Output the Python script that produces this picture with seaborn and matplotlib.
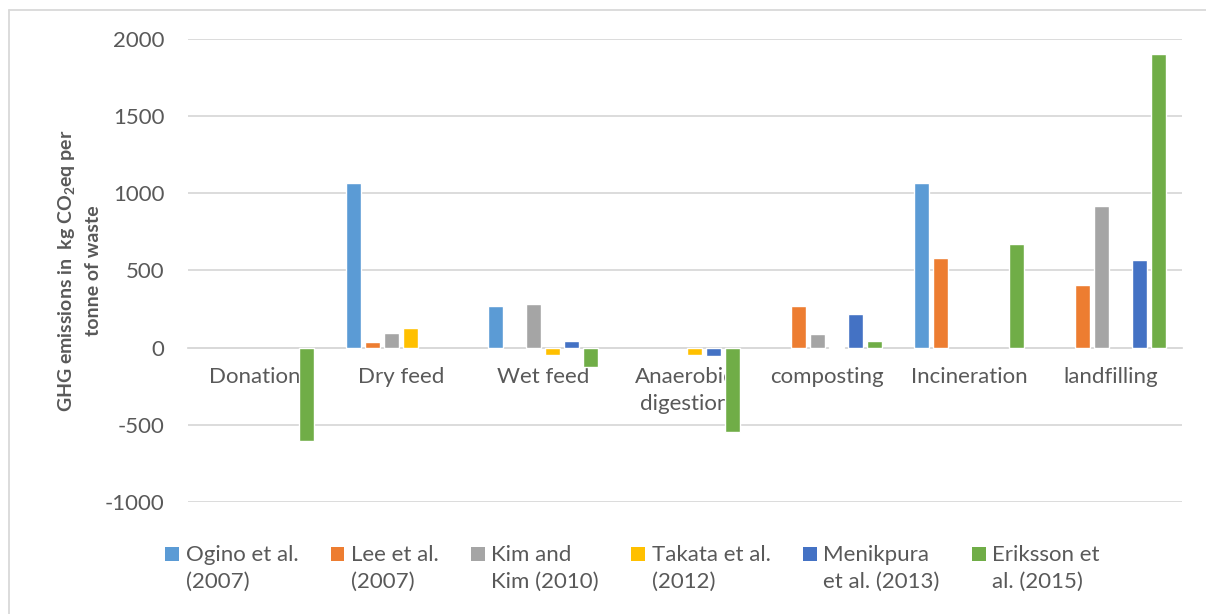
import numpy as np
import pandas as pd
import matplotlib
matplotlib.use("Agg")
import matplotlib.pyplot as plt
from matplotlib.patches import Rectangle
from matplotlib.lines import Line2D
import seaborn as sns

# Treatment routes and the studies compared (kg CO2eq per tonne of waste)
methods = ["Donations", "Dry feed", "Wet feed", "Anaerobic\ndigestion",
           "composting", "Incineration", "landfilling"]
studies = ["Ogino et al.\n(2007)", "Lee et al.\n(2007)", "Kim and\nKim (2010)",
           "Takata et al.\n(2012)", "Menikpura\net al. (2013)", "Eriksson et\nal. (2015)"]

ogino = [np.nan, 1070, 270, np.nan, np.nan, 1065, np.nan]
lee = [np.nan, 35, np.nan, np.nan, 270, 580, 405]
kim = [np.nan, 95, 285, np.nan, 90, np.nan, 915]
takata = [np.nan, 125, -45, -45, 5, np.nan, np.nan]
menikpura = [np.nan, np.nan, 45, -55, 220, np.nan, 570]
eriksson = [-605, np.nan, -127, -545, 40, 670, 1900]

colors = ["#5B9BD5", "#ED7D31", "#A5A5A5", "#FFC000", "#4472C4", "#70AD47"]

series = [ogino, lee, kim, takata, menikpura, eriksson]
df = pd.DataFrame({s: v for s, v in zip(studies, series)}, index=methods)
df.index.name = "method"
long = df.reset_index().melt(id_vars="method", var_name="study", value_name="value")

sns.set_theme(style="white")
plt.rcParams["font.family"] = ["Lato", "DejaVu Sans"]
plt.rcParams["mathtext.fontset"] = "custom"
plt.rcParams["mathtext.rm"] = "Lato"
plt.rcParams["mathtext.bf"] = "Lato:bold"
plt.rcParams["axes.unicode_minus"] = False

text_color = "#595959"
grid_color = "#D9D9D9"

fig = plt.figure(figsize=(12.06, 6.14), dpi=100)
ax = fig.add_axes([0.156, 0.1824, 0.824, 0.7541])

sns.barplot(data=long, x="method", y="value", hue="study",
            order=methods, hue_order=studies, palette=colors,
            saturation=1, width=0.8, errorbar=None, legend=False, ax=ax)

# Narrow each bar inside its slot, keeping the slot centre
for cont in ax.containers:
    for bar in cont:
        w = bar.get_width()
        bar.set_x(bar.get_x() + w * 0.1)
        bar.set_width(w * 0.8)

ax.set_ylim(-1000, 2000)
ax.set_xlim(-0.5, len(methods) - 0.5)
ax.set_yticks(np.arange(-1000, 2001, 500))
ax.yaxis.grid(True, color=grid_color, linewidth=1.3)
ax.set_axisbelow(True)

for side in ["top", "right", "left"]:
    ax.spines[side].set_visible(False)
ax.spines["bottom"].set_position(("data", 0))
ax.spines["bottom"].set_color(grid_color)
ax.spines["bottom"].set_linewidth(1.3)
ax.spines["bottom"].set_zorder(0.6)

ax.tick_params(axis="x", length=0, pad=14, labelsize=16, labelcolor=text_color)
ax.tick_params(axis="y", length=0, pad=17, labelsize=16, labelcolor=text_color)
for lbl in ax.get_xticklabels():
    lbl.set_linespacing(1.4)
ax.set_xlabel("")
ax.set_ylabel("GHG emissions in  kg CO$_\\mathbf{2}$eq per\ntonne of waste",
              fontsize=14, fontweight="bold", color=text_color, linespacing=1.5)
ax.yaxis.set_label_coords(-0.087, 0.5)

handles = [Rectangle((0, 0), 1, 1, facecolor=c, edgecolor="none") for c in colors]
leg = fig.legend(handles, studies, loc="upper left", bbox_to_anchor=(0.137, 0.112),
                 ncol=6, frameon=False, fontsize=16, labelcolor=text_color,
                 handlelength=0.62, handleheight=0.62, handletextpad=0.3,
                 columnspacing=1.45, borderaxespad=0, borderpad=0)
for t in leg.get_texts():
    t.set_linespacing(1.42)
# Lift the swatches to sit beside the first line of each label
for p in leg.get_patches():
    p.set_y(p.get_y() + 10.5)

# Chart-area frame (top and left edges)
fig.add_artist(Line2D([9 / 1206, 9 / 1206], [0, 1 - 10 / 614], transform=fig.transFigure,
                      color=grid_color, linewidth=1.3))
fig.add_artist(Line2D([9 / 1206, 1], [1 - 10 / 614, 1 - 10 / 614], transform=fig.transFigure,
                      color=grid_color, linewidth=1.3))

fig.savefig("out.png", dpi=100)
